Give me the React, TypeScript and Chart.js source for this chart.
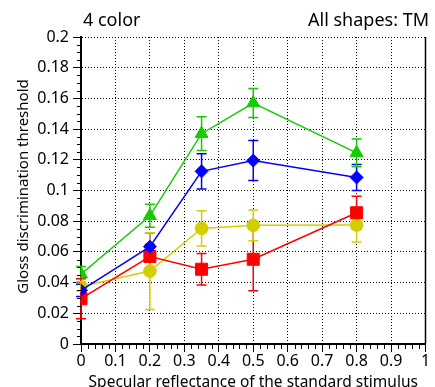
import React, { useEffect, useRef } from "react";
import { Chart, registerables } from "chart.js";

Chart.register(...registerables);

const xValues = [0, 0.2, 0.35, 0.5, 0.8];

const greenValues = [0.0455, 0.0835, 0.137, 0.157, 0.1245];
const greenErr = [0.005, 0.0075, 0.011, 0.0095, 0.009];

const blueValues = [0.035, 0.0634, 0.1125, 0.1195, 0.1085];
const blueErr = [0.004, 0.009, 0.0115, 0.013, 0.0085];

const redValues = [0.0295, 0.057, 0.0487, 0.0552, 0.0855];
const redErr = [0.013, 0.008, 0.0102, 0.0205, 0.0108];

const yellowValues = [0.0375, 0.0475, 0.0753, 0.0773, 0.0775];
const yellowErr = [0.003, 0.025, 0.0115, 0.01, 0.011];

const xTickValues = [0, 0.1, 0.2, 0.3, 0.4, 0.5, 0.6, 0.7, 0.8, 0.9, 1];
const yTickValues = [0, 0.02, 0.04, 0.06, 0.08, 0.1, 0.12, 0.14, 0.16, 0.18, 0.2];

const titleLeft = "4 color";
const titleRight = "All shapes: TM";
const xTitle = "Specular reflectance of the standard stimulus";
const yTitle = "Gloss discrimination threshold";

const FONT = "'Noto Sans', sans-serif";

const GREEN = "rgb(20,204,0)";
const BLUE = "rgb(0,0,255)";
const RED = "rgb(255,0,0)";
const YELLOW = "rgb(210,206,0)";

const fmt = (v: number) => String(+Number(v).toFixed(3));

const errorBarPlugin = {
  id: "errorBars",
  beforeDatasetsDraw(chart: any) {
    const { ctx, scales } = chart;
    const xs = scales.x;
    const ys = scales.y;
    chart.data.datasets.forEach((ds: any) => {
      const errs: number[] = ds.errors || [];
      ctx.save();
      ctx.strokeStyle = ds.borderColor;
      ctx.lineWidth = 1.5;
      ds.data.forEach((p: any, i: number) => {
        const e = errs[i];
        if (!e) return;
        const px = xs.getPixelForValue(p.x);
        const top = ys.getPixelForValue(p.y + e);
        const bot = ys.getPixelForValue(p.y - e);
        ctx.beginPath();
        ctx.moveTo(px, top);
        ctx.lineTo(px, bot);
        ctx.moveTo(px - 5, top);
        ctx.lineTo(px + 5, top);
        ctx.moveTo(px - 5, bot);
        ctx.lineTo(px + 5, bot);
        ctx.stroke();
      });
      ctx.restore();
    });
  },
};

const decorPlugin = {
  id: "decor",
  afterDraw(chart: any) {
    const { ctx, chartArea, scales } = chart;
    const xs = scales.x;
    const ys = scales.y;
    ctx.save();
    ctx.strokeStyle = "#000";
    ctx.lineWidth = 1.5;
    // right border
    ctx.beginPath();
    ctx.moveTo(chartArea.right, chartArea.top);
    ctx.lineTo(chartArea.right, chartArea.bottom);
    ctx.stroke();
    // minor ticks
    ctx.lineWidth = 1;
    ctx.beginPath();
    for (let i = 0; i <= 40; i++) {
      if (i % 4 === 0) continue;
      const py = Math.round(ys.getPixelForValue(i * 0.005)) + 0.5;
      ctx.moveTo(chartArea.left - 4, py);
      ctx.lineTo(chartArea.left, py);
    }
    for (let i = 0; i <= 50; i++) {
      if (i % 5 === 0) continue;
      const px = Math.round(xs.getPixelForValue(i * 0.02)) + 0.5;
      ctx.moveTo(px, chartArea.bottom);
      ctx.lineTo(px, chartArea.bottom + 5);
    }
    ctx.stroke();
    // texts
    ctx.fillStyle = "#000";
    ctx.font = `18px ${FONT}`;
    ctx.textBaseline = "alphabetic";
    ctx.textAlign = "left";
    ctx.fillText(titleLeft, 83, 26);
    ctx.textAlign = "right";
    ctx.fillText(titleRight, 429, 26);
    ctx.font = `15.5px ${FONT}`;
    ctx.textAlign = "center";
    ctx.fillText(xTitle, (chartArea.left + chartArea.right) / 2, 387);
    ctx.font = `15px ${FONT}`;
    ctx.translate(28, (chartArea.top + chartArea.bottom) / 2 - 4);
    ctx.rotate(-Math.PI / 2);
    ctx.fillText(yTitle, 0, 0);
    ctx.restore();
  },
};

const toPoints = (vals: number[]) => vals.map((y, i) => ({ x: xValues[i], y }));

export default function App() {
  const ref = useRef<HTMLCanvasElement | null>(null);

  useEffect(() => {
    document.body.style.margin = "0";
    const canvas = ref.current;
    if (!canvas) return;
    const mk = (label: string, vals: number[], errs: number[], color: string, style: string, radius: number) => ({
      label,
      data: toPoints(vals),
      errors: errs,
      borderColor: color,
      backgroundColor: color,
      pointBackgroundColor: color,
      pointBorderColor: color,
      pointStyle: style,
      pointRadius: radius,
      pointBorderWidth: 1,
      borderWidth: 1.5,
      showLine: true,
    });
    const chart = new Chart(canvas, {
      type: "scatter",
      data: {
        datasets: [
          mk("blue", blueValues, blueErr, BLUE, "rectRot", 6.5),
          mk("green", greenValues, greenErr, GREEN, "triangle", 7.5),
          mk("red", redValues, redErr, RED, "rect", 8.5),
          mk("yellow", yellowValues, yellowErr, YELLOW, "circle", 6.3),
        ] as any,
      },
      options: {
        responsive: false,
        animation: false,
        events: [],
        layout: { padding: { top: 37, right: 2, left: 0, bottom: 0 } },
        plugins: { legend: { display: false }, tooltip: { enabled: false } },
        scales: {
          x: {
            type: "linear",
            min: 0,
            max: 1,
            afterFit: (s: any) => {
              s.height = 43;
            },
            afterBuildTicks: (s: any) => {
              s.ticks = xTickValues.map((v) => ({ value: v }));
            },
            ticks: {
              color: "#000",
              font: { family: FONT, size: 16 },
              padding: 0,
              maxRotation: 0,
              autoSkip: false,
              callback: (v: any) => fmt(v),
            },
            grid: {
              color: "#000",
              lineWidth: 1,
              tickLength: 8,
              tickColor: "#000",
              tickWidth: 1,
              tickBorderDash: [],
            },
            border: { display: true, color: "#000", width: 2, dash: [1, 2] },
          },
          y: {
            type: "linear",
            min: 0,
            max: 0.2,
            afterFit: (s: any) => {
              s.width = 81;
            },
            afterBuildTicks: (s: any) => {
              s.ticks = yTickValues.map((v) => ({ value: v }));
            },
            ticks: {
              color: "#000",
              font: { family: FONT, size: 16 },
              padding: 4,
              autoSkip: false,
              callback: (v: any) => fmt(v),
            },
            grid: {
              color: "#000",
              lineWidth: 1,
              tickLength: 8,
              tickColor: "#000",
              tickWidth: 1,
              tickBorderDash: [],
            },
            border: { display: true, color: "#000", width: 2, dash: [1, 2] },
          },
        },
      } as any,
      plugins: [errorBarPlugin, decorPlugin],
    });
    return () => chart.destroy();
  }, []);

  return (
    <div style={{ width: 435, height: 387, background: "#fff" }}>
      <canvas ref={ref} width={435} height={387} />
    </div>
  );
}
